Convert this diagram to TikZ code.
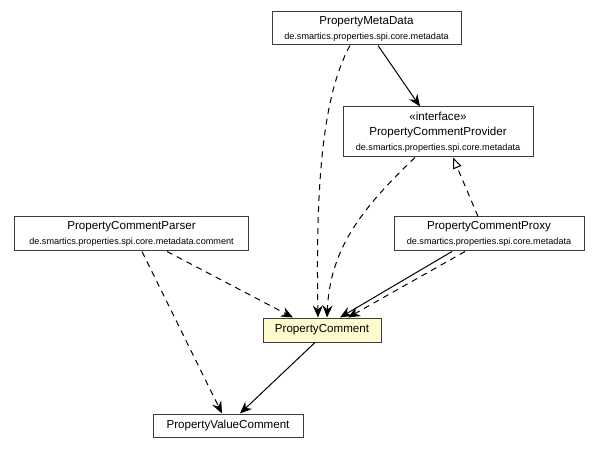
\documentclass[tikz,border=0pt]{standalone}
\usepackage{fontspec}
\setmainfont{Liberation Sans}
\usetikzlibrary{arrows.meta}
\definecolor{classfill}{RGB}{255,250,205}
\definecolor{boxline}{RGB}{60,60,60}
\newcommand{\pkgname}[1]{{\fontsize{9.1bp}{15bp}\selectfont #1}}
\tikzset{
    dep/.style={dash pattern=on 6bp off 5bp},
    realize/.style={dash pattern=on 6bp off 5bp,-{Triangle[open,length=11bp,width=9bp]}}
}
\begin{document}
\begin{tikzpicture}[x=1bp,y=-1bp]
        \useasboundingbox (0,0) rectangle (600,456);
        \begin{scope}[every node/.style={draw=boxline,fill=white,line width=1bp,inner sep=0pt,align=center,font=\fontsize{11.6bp}{15bp}\selectfont}]
            \node[minimum width=189bp,minimum height=33bp] (meta) at (366.5,28.5) {PropertyMetaData\\\pkgname{de.smartics.properties.spi.core.metadata}};
            \node[minimum width=190bp,minimum height=50bp] (provider) at (438,132) {«interface»\\PropertyCommentProvider\\\pkgname{de.smartics.properties.spi.core.metadata}};
            \node[minimum width=233bp,minimum height=34bp] (parser) at (131.5,234) {PropertyCommentParser\\\pkgname{de.smartics.properties.spi.core.metadata.comment}};
            \node[minimum width=190bp,minimum height=34bp] (proxy) at (489,234) {PropertyCommentProxy\\\pkgname{de.smartics.properties.spi.core.metadata}};
            \node[minimum width=118bp,minimum height=24bp,fill=classfill] (comment) at (322,330) {PropertyComment};
            \node[minimum width=150bp,minimum height=23bp] (value) at (228,425.5) {PropertyValueComment};
        \end{scope}
        \begin{scope}[line width=1bp,-{Stealth[length=12bp,width=10bp,inset=4bp]}]
            \draw[dep] ([xshift=-16.5bp]meta.south) .. controls (320,100) and (316,200) .. ([xshift=-4bp]comment.north);
            \draw[dep] ([xshift=-23bp]provider.south) .. controls (360,210) and (330,250) .. ([xshift=5bp]comment.north);
            \path[every edge/.style={draw}]
                ([xshift=11.5bp]meta.south) edge ([xshift=-18bp]provider.north)
                ([xshift=-11bp]proxy.north) edge[realize] ([xshift=15bp]provider.south)
                ([xshift=-37bp]proxy.south) edge ([xshift=18bp]comment.north)
                ([xshift=-24bp]proxy.south) edge[dep] ([xshift=26bp]comment.north)
                ([xshift=35.5bp]parser.south) edge[dep] ([xshift=-29bp]comment.north)
                ([xshift=10.5bp]parser.south) edge[dep] ([xshift=-6bp]value.north)
                ([xshift=-7bp]comment.south) edge ([xshift=12bp]value.north);
        \end{scope}
    \end{tikzpicture}
\end{document}
